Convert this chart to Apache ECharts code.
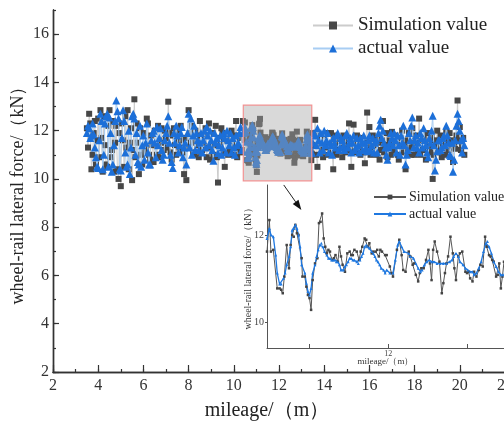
<!DOCTYPE html>
<html><head><meta charset="utf-8">
<script src="https://cdn.jsdelivr.net/npm/echarts@6/dist/echarts.min.js"></script>
<style>html,body{margin:0;padding:0;background:#fff}#c{width:504px;height:426px}</style>
</head><body><div id="c"></div>
<script>
// ---- data: main chart samples (two interleaved reading passes) ----
const mileageLeft = [3.5,3.6,3.7,3.8,3.9,4.0,4.1,4.2,4.3,4.4,4.5,4.6,4.7,4.8,4.9,5.0,5.1,5.2,5.3,5.4,5.5,5.6,5.7,5.8,5.9,6.0,6.1,6.2,6.3,6.4,6.5,6.6,6.7,6.8,6.9,7.0,7.1,7.2,7.3,7.4,7.5,7.6,7.7,7.8,7.9,8.0,8.1,8.2,8.3,8.4,8.5,8.6,8.7,8.8,8.9,9.0,9.1,9.2,9.3,9.4,9.5,9.6,9.7,9.8,9.9,10.0,10.1,10.2,10.3,10.4];
const simLeft = [12.1,12.7,10.4,11.9,10.6,12.5,12.85,10.3,11.4,10.5,
  12.85,11.2,10.3,12.2,10.0,9.7,11.6,12.6,12.85,11.5,
  9.95,13.3,12.3,10.2,11.0,11.9,11.3,12.3,10.8,11.4,
  12.0,11.0,11.6,12.1,11.2,11.7,13.2,11.1,11.8,11.4,
  12.0,11.3,11.6,10.2,9.95,12.85,11.5,11.1,12.0,11.4,
  12.4,11.2,11.8,10.9,12.3,11.4,11.0,12.2,9.85,11.5,
  11.9,10.5,11.6,11.2,12.0,11.0,12.4,11.3,11.1,12.4];
const actualLeft = [11.9,12.1,11.8,11.85,10.9,10.45,12.7,10.4,12.3,12.7,
  12.55,10.3,11.4,13.25,12.5,10.35,12.85,11.1,10.6,10.2,
  12.6,12.5,11.9,10.6,10.5,11.8,11.5,11.1,10.6,11.9,
  11.5,12.15,11.7,11.2,11.0,11.9,12.6,11.0,10.45,11.5,
  11.8,11.4,12.15,11.3,10.6,12.7,12.5,11.8,11.2,11.6,
  11.5,11.1,12.0,12.15,11.4,11.6,10.75,11.5,11.07,11.8,
  11.3,11.7,12.0,11.4,11.1,11.3,11.8,11.5,12.15,11.9];
const mileageLeftMid = [3.55,3.65,3.75,3.85,3.95,4.05,4.15,4.25,4.35,4.45,4.55,4.65,4.75,4.85,4.95,5.05,5.15,5.25,5.35,5.45,5.55,5.65,5.75,5.85,5.95,6.05,6.15,6.25,6.35,6.45,6.55,6.65,6.75,6.85,6.95,7.05,7.15,7.25,7.35,7.45,7.55,7.65,7.75,7.85,7.95,8.05,8.15,8.25,8.35,8.45,8.55,8.65,8.75,8.85,8.95,9.05,9.15,9.25,9.35,9.45,9.55,9.65,9.75,9.85,9.95,10.05,10.15,10.25,10.35];
const simLeftMid = [11.3,12.3,11.0,12.4,11.6,10.9,11.7,12.6,10.6,12.2,
  10.9,12.4,11.5,10.4,11.9,12.3,10.5,11.3,10.4,12.1,
  11.2,10.9,11.5,12.1,10.6,11.1,12.5,11.0,11.8,10.7,
  11.4,12.2,10.9,11.5,12.0,11.3,11.9,10.8,12.1,11.0,
  11.6,12.2,11.1,11.7,11.3,11.9,12.2,11.0,11.6,10.9,
  11.8,11.5,12.1,11.3,10.8,11.9,11.4,10.9,11.7,12.1,
  11.1,11.8,11.0,11.6,11.4,11.8,10.9,11.7,11.2];
const actualLeftMid = [12.2,11.7,12.3,11.3,10.5,11.6,12.4,11.0,12.6,10.5,
  11.9,10.6,12.4,12.8,10.4,11.7,12.4,10.5,12.0,11.3,
  12.7,11.0,10.7,12.2,11.4,10.8,12.3,10.6,11.6,12.0,
  10.9,11.4,12.1,10.8,11.6,12.2,11.5,10.7,11.9,12.2,
  11.1,11.9,10.9,11.5,11.9,11.3,11.0,12.2,11.9,11.2,
  11.9,11.6,11.3,11.8,12.0,11.2,11.9,11.7,11.4,11.0,
  11.9,11.1,11.6,11.9,11.7,11.0,11.4,11.9,11.2];
const mileageRight = [13.5,13.6,13.7,13.8,13.9,14.0,14.1,14.2,14.3,14.4,14.5,14.6,14.7,14.8,14.9,15.0,15.1,15.2,15.3,15.4,15.5,15.6,15.7,15.8,15.9,16.0,16.1,16.2,16.3,16.4,16.5,16.6,16.7,16.8,16.9,17.0,17.1,17.2,17.3,17.4,17.5,17.6,17.7,17.8,17.9,18.0,18.1,18.2,18.3,18.4,18.5,18.6,18.7,18.8,18.9,19.0,19.1,19.2,19.3,19.4,19.5,19.6,19.7,19.8,19.9,20.0,20.1,20.2];
const simRight = [11.9,12.45,10.5,11.6,11.2,11.8,11.3,11.0,11.9,10.4,
  11.5,11.2,11.7,10.9,11.6,11.4,12.3,10.5,12.25,11.1,
  11.6,11.0,11.5,10.65,12.75,12.15,11.3,11.7,11.0,11.5,
  11.2,12.4,11.4,10.9,11.6,11.95,11.2,11.5,10.8,11.7,
  11.1,10.4,11.6,11.3,12.1,11.0,11.5,12.5,11.2,11.7,
  10.8,11.4,11.1,10.0,11.6,12.0,11.3,10.9,11.5,11.95,
  11.2,11.6,10.7,11.25,13.25,12.15,11.45,11.0];
const actualRight = [11.5,11.8,12.1,11.1,11.5,12.0,11.6,11.1,11.4,11.7,
  11.3,11.9,11.3,11.6,11.2,11.9,11.5,11.1,11.8,11.3,
  11.4,11.7,11.2,11.5,11.15,11.8,11.4,11.1,11.6,11.9,
  12.45,12.0,11.3,10.8,11.5,11.7,11.9,11.1,11.4,11.8,
  12.2,10.6,11.2,11.6,12.55,11.6,11.3,11.1,11.7,12.1,
  11.4,10.9,11.5,12.62,10.35,11.15,11.6,11.3,11.8,12.2,
  11.5,10.95,10.3,11.6,12.7,12.0,11.1,11.4];
const mileageRightMid = [13.55,13.65,13.75,13.85,13.95,14.05,14.15,14.25,14.35,14.45,14.55,14.65,14.75,14.85,14.95,15.05,15.15,15.25,15.35,15.45,15.55,15.65,15.75,15.85,15.95,16.05,16.15,16.25,16.35,16.45,16.55,16.65,16.75,16.85,16.95,17.05,17.15,17.25,17.35,17.45,17.55,17.65,17.75,17.85,17.95,18.05,18.15,18.25,18.35,18.45,18.55,18.65,18.75,18.85,18.95,19.05,19.15,19.25,19.35,19.45,19.55,19.65,19.75,19.85,19.95,20.05,20.15];
const simRightMid = [11.4,11.0,11.8,11.5,10.9,11.4,11.9,11.4,11.1,11.8,
  11.0,11.6,11.3,11.8,11.1,11.7,11.2,11.6,11.5,11.8,
  11.3,11.7,11.1,11.5,11.4,11.0,11.8,11.4,11.7,10.8,
  11.6,11.1,11.9,11.4,11.0,11.5,11.8,11.0,11.4,12.0,
  11.5,11.1,11.9,11.0,11.5,11.8,11.2,11.0,11.6,11.2,
  11.9,11.3,11.7,11.0,11.4,11.1,11.8,11.5,11.0,11.6,
  11.9,11.3,11.5,11.8,11.6,11.2,11.7];
const actualRightMid = [11.9,11.4,11.6,11.9,11.2,11.4,11.9,11.5,11.0,11.5,
  11.8,11.2,11.7,11.4,11.8,11.3,11.7,11.5,11.2,11.7,
  11.1,11.5,11.8,11.3,11.6,11.2,11.7,11.5,11.1,12.2,
  11.7,11.5,11.0,11.3,11.9,11.4,11.6,11.8,11.0,11.5,
  11.4,11.0,11.9,12.2,11.3,11.8,11.5,11.9,11.3,11.6,
  11.1,11.7,12.0,11.4,10.8,11.6,11.2,11.7,11.4,11.8,
  11.0,11.5,10.8,12.2,12.4,11.6,11.7];
// zoomed section (inset), [mileage, force]
const insetSim = [[10.46,11.62],[10.49,12.34],[10.51,11.62],[10.54,11.66],[10.59,10.78],[10.62,10.78],[10.64,10.75],[10.66,10.67],[10.68,11.05],[10.71,11.77],[10.74,11.24],[10.76,11.77],[10.78,12.0],[10.80,11.96],[10.82,12.23],[10.84,12.04],[10.86,12.0],[10.90,11.47],[10.91,11.05],[10.94,11.05],[10.96,10.82],[10.98,10.63],[11.00,10.56],[11.02,10.29],[11.04,10.97],[11.07,11.35],[11.10,11.47],[11.12,12.27],[11.14,12.30],[11.16,12.49],[11.18,11.92],[11.20,11.73],[11.22,11.58],[11.24,11.66],[11.26,11.62],[11.29,11.43],[11.31,11.47],[11.33,11.54],[11.36,11.39],[11.38,11.73],[11.40,11.51],[11.42,11.32],[11.45,11.16],[11.48,11.58],[11.51,11.62],[11.53,11.54],[11.55,11.54],[11.57,11.66],[11.60,11.62],[11.63,11.43],[11.65,11.62],[11.67,11.73],[11.70,11.92],[11.72,11.89],[11.74,11.73],[11.76,11.81],[11.79,11.58],[11.81,11.62],[11.84,11.62],[11.86,11.66],[11.88,11.51],[11.90,11.66],[11.92,11.62],[11.96,11.54],[11.98,11.54],[12.02,11.28],[12.04,11.13],[12.06,11.05],[12.11,11.66],[12.14,11.89],[12.17,11.54],[12.19,11.20],[12.22,11.16],[12.26,11.62],[12.28,11.51],[12.31,11.32],[12.33,11.35],[12.35,11.09],[12.38,10.94],[12.40,11.13],[12.42,11.24],[12.45,11.24],[12.48,11.43],[12.51,11.66],[12.53,11.35],[12.55,10.97],[12.57,11.66],[12.59,11.85],[12.62,11.62],[12.65,11.39],[12.68,10.67],[12.70,10.90],[12.72,11.13],[12.74,11.35],[12.76,11.51],[12.79,11.96],[12.82,11.58],[12.84,11.24],[12.86,10.97],[12.89,11.51],[12.91,11.58],[12.94,11.62],[12.98,11.16],[13.00,11.13],[13.02,11.16],[13.04,11.01],[13.07,10.94],[13.09,11.16],[13.12,11.05],[13.15,11.20],[13.17,11.32],[13.20,11.28],[13.23,11.96],[13.25,11.73],[13.28,11.54],[13.30,11.51],[13.32,11.43],[13.34,11.39],[13.37,11.05],[13.39,11.09],[13.41,11.35],[13.43,10.78],[13.45,11.05],[13.47,11.39]];
const insetActual = [[10.46,11.92],[10.49,12.15],[10.51,12.0],[10.54,11.96],[10.57,11.54],[10.59,11.13],[10.62,10.88],[10.64,10.88],[10.67,11.01],[10.69,11.13],[10.71,11.32],[10.74,11.51],[10.76,11.73],[10.78,12.11],[10.80,12.15],[10.82,12.23],[10.84,12.15],[10.86,12.0],[10.88,11.73],[10.90,11.32],[10.94,11.13],[10.96,10.90],[10.98,10.71],[11.00,10.63],[11.02,10.78],[11.04,11.13],[11.07,11.32],[11.09,11.51],[11.11,11.66],[11.13,11.77],[11.15,11.81],[11.17,11.73],[11.19,11.62],[11.22,11.54],[11.24,11.47],[11.26,11.47],[11.28,11.43],[11.30,11.43],[11.32,11.43],[11.34,11.39],[11.36,11.39],[11.38,11.32],[11.40,11.20],[11.43,11.20],[11.45,11.28],[11.47,11.32],[11.49,11.39],[11.51,11.47],[11.53,11.47],[11.55,11.43],[11.57,11.43],[11.60,11.39],[11.62,11.35],[11.64,11.43],[11.66,11.51],[11.68,11.58],[11.70,11.73],[11.72,11.77],[11.74,11.73],[11.76,11.70],[11.79,11.62],[11.81,11.58],[11.83,11.51],[11.85,11.43],[11.87,11.39],[11.89,11.32],[11.91,11.24],[11.94,11.20],[11.96,11.13],[11.98,11.20],[12.02,11.13],[12.06,11.13],[12.09,11.43],[12.12,11.77],[12.14,11.85],[12.17,11.73],[12.20,11.62],[12.26,11.58],[12.28,11.51],[12.32,11.47],[12.35,11.35],[12.38,11.24],[12.41,11.16],[12.43,11.20],[12.46,11.32],[12.49,11.39],[12.52,11.43],[12.55,11.39],[12.58,11.39],[12.62,11.35],[12.66,11.35],[12.70,11.35],[12.74,11.35],[12.78,11.39],[12.81,11.43],[12.83,11.51],[12.86,11.58],[12.89,11.51],[12.91,11.39],[12.95,11.32],[12.98,11.24],[13.01,11.20],[13.04,11.16],[13.07,11.16],[13.09,11.09],[13.12,11.13],[13.15,11.24],[13.18,11.39],[13.21,11.62],[13.24,11.81],[13.26,11.85],[13.28,11.73],[13.31,11.58],[13.34,11.39],[13.37,11.28],[13.40,11.16],[13.43,11.09],[13.46,11.09]];
const xTickLabels = [2,4,6,8,10,12,14,16,18,20,22];
const yTickLabels = [2,4,6,8,10,12,14,16];
const insetXTicks = [11,12,13];
const insetXLabels = [12];
const insetYTicks = [10,12];
const zoomBox = [10.42, 13.45, 9.92, 13.06]; // x0, x1, y0, y1
const arrowFrom = [12.21, 9.75];
const arrowTo = [12.99, 8.71];

// ---- build ----
const pairs = (xs, ys) => xs.map((x, i) => [x, ys[i]]);
const byX = (a, b) => a[0] - b[0];
const simAll = pairs(mileageLeft, simLeft).concat(pairs(mileageLeftMid, simLeftMid), insetSim,
  pairs(mileageRight, simRight), pairs(mileageRightMid, simRightMid)).sort(byX);
const actAll = pairs(mileageLeft, actualLeft).concat(pairs(mileageLeftMid, actualLeftMid), insetActual,
  pairs(mileageRight, actualRight), pairs(mileageRightMid, actualRightMid)).sort(byX);

const SERIF = '"Liberation Serif","Times New Roman",serif';
const axisCol = '#333';
const chart = echarts.init(document.getElementById('c'), null, {renderer: 'canvas'});

chart.setOption({
  animation: false,
  backgroundColor: '#fff',
  grid: [
    {left: 53, top: 10, width: 452, height: 362, outerBoundsMode: 'none', containLabel: false},
    {left: 267, top: 185, width: 237, height: 163, outerBoundsMode: 'none', containLabel: false}
  ],
  xAxis: [
    {gridIndex: 0, type: 'value', min: 2, max: 22, interval: 1, position: 'bottom',
     axisLine: {onZero: false, lineStyle: {color: axisCol, width: 1.4}},
     axisTick: {inside: true, length: 3, lineStyle: {color: axisCol, width: 1.2}},
     axisLabel: {show: false}, splitLine: {show: false}},
    {gridIndex: 0, type: 'value', min: 2, max: 22, position: 'bottom',
     name: 'mileage/（m）', nameLocation: 'middle', nameGap: 29, nameMoveOverlap: false,
     nameTextStyle: {fontFamily: SERIF, fontSize: 20, color: '#222', padding: [0, 24, 0, 0]},
     axisLine: {onZero: false, lineStyle: {color: axisCol, width: 1.4}},
     axisTick: {inside: true, length: 7, customValues: xTickLabels, lineStyle: {color: axisCol, width: 1.2}},
     axisLabel: {customValues: xTickLabels, fontFamily: SERIF, fontSize: 16, color: '#333', margin: 6},
     splitLine: {show: false}},
    {gridIndex: 1, type: 'value', min: 10.46, max: 13.47, position: 'bottom',
     name: 'mileage/（m）', nameLocation: 'middle', nameGap: 9, nameMoveOverlap: false,
     nameTextStyle: {fontFamily: SERIF, fontSize: 9, color: '#333'},
     axisLine: {onZero: false, lineStyle: {color: '#555', width: 1}},
     axisTick: {inside: true, length: 4, customValues: insetXTicks, lineStyle: {color: '#555'}},
     axisLabel: {customValues: insetXLabels, fontFamily: SERIF, fontSize: 8, color: '#444', margin: 2},
     splitLine: {show: false}}
  ],
  yAxis: [
    {gridIndex: 0, type: 'value', min: 2, max: 17, interval: 1, position: 'left',
     axisLine: {onZero: false, lineStyle: {color: axisCol, width: 1.4}},
     axisTick: {inside: true, length: 3, lineStyle: {color: axisCol, width: 1.2}},
     axisLabel: {show: false}, splitLine: {show: false}},
    {gridIndex: 0, type: 'value', min: 2, max: 17, position: 'left',
     name: 'wheel-rail lateral force/（kN）', nameLocation: 'middle', nameGap: 26, nameMoveOverlap: false,
     nameTextStyle: {fontFamily: SERIF, fontSize: 18, color: '#222'},
     axisLine: {onZero: false, lineStyle: {color: axisCol, width: 1.4}},
     axisTick: {inside: true, length: 6, customValues: yTickLabels, lineStyle: {color: axisCol, width: 1.2}},
     axisLabel: {customValues: yTickLabels, fontFamily: SERIF, fontSize: 16, color: '#333', margin: 4},
     splitLine: {show: false}},
    {gridIndex: 1, type: 'value', min: 9.42, max: 13.14, position: 'left',
     name: 'wheel-rail lateral force/（kN）', nameLocation: 'middle', nameGap: 14, nameMoveOverlap: false,
     nameTextStyle: {fontFamily: SERIF, fontSize: 10, color: '#333'},
     axisLine: {onZero: false, lineStyle: {color: '#555', width: 1}},
     axisTick: {inside: false, length: 2, customValues: insetYTicks, lineStyle: {color: '#555'}},
     axisLabel: {customValues: insetYTicks, fontFamily: SERIF, fontSize: 10, color: '#444', margin: 3},
     splitLine: {show: false}}
  ],
  legend: [
    {orient: 'vertical', left: 307, top: 11, itemWidth: 40, itemHeight: 10, itemGap: 4,
     data: ['Simulation value', 'actual value'],
     textStyle: {fontFamily: SERIF, fontSize: 19, color: '#222'}},
    {orient: 'vertical', left: 368, top: 185, itemWidth: 32, itemHeight: 6, itemGap: 3,
     data: ['Simulation value ', 'actual value '],
     textStyle: {fontFamily: SERIF, fontSize: 14, color: '#222', padding: [0, 0, 0, -2]}}
  ],
  series: [
    {name: 'Simulation value', type: 'line', xAxisIndex: 0, yAxisIndex: 0, data: simAll,
     symbol: 'rect', symbolSize: 6, showAllSymbol: true,
     itemStyle: {color: '#474747'}, lineStyle: {color: '#cccccc', width: 1}, z: 2},
    {name: 'actual value', type: 'line', xAxisIndex: 0, yAxisIndex: 0, data: actAll,
     symbol: 'triangle', symbolSize: 8, showAllSymbol: true,
     itemStyle: {color: '#1c6fd8'}, lineStyle: {color: '#a8cdf3', width: 1}, z: 3},
    {name: 'Simulation value ', type: 'line', xAxisIndex: 2, yAxisIndex: 2, data: insetSim,
     symbol: 'rect', symbolSize: 2.5, showAllSymbol: true,
     itemStyle: {color: '#444'}, lineStyle: {color: '#555', width: 1}},
    {name: 'actual value ', type: 'line', xAxisIndex: 2, yAxisIndex: 2, data: insetActual,
     symbol: 'triangle', symbolSize: 3, showAllSymbol: true,
     itemStyle: {color: '#1f78e0'}, lineStyle: {color: '#1f78e0', width: 1.3}}
  ]
});

const f = {xAxisIndex: 0, yAxisIndex: 0};
const p0 = chart.convertToPixel(f, [zoomBox[0], zoomBox[3]]);
const p1 = chart.convertToPixel(f, [zoomBox[1], zoomBox[2]]);
const a0 = chart.convertToPixel(f, arrowFrom);
const a1 = chart.convertToPixel(f, arrowTo);
const dx = a1[0] - a0[0], dy = a1[1] - a0[1];
const len = Math.hypot(dx, dy), ux = dx / len, uy = dy / len;
const hl = 10, hw = 3.5;
const bx = a1[0] - ux * hl, by = a1[1] - uy * hl;
chart.setOption({
  graphic: [
    {type: 'rect', z: 100, shape: {x: p0[0], y: p0[1], width: p1[0] - p0[0], height: p1[1] - p0[1]},
     style: {fill: 'rgba(165,165,165,0.42)', stroke: '#f29393', lineWidth: 1.2}},
    {type: 'line', z: 100, shape: {x1: a0[0], y1: a0[1], x2: bx, y2: by},
     style: {stroke: '#222', lineWidth: 1}},
    {type: 'polygon', z: 100, shape: {points: [[a1[0], a1[1]], [bx - uy * hw, by + ux * hw], [bx + uy * hw, by - ux * hw]]},
     style: {fill: '#111'}}
  ]
});
</script>
</body></html>
